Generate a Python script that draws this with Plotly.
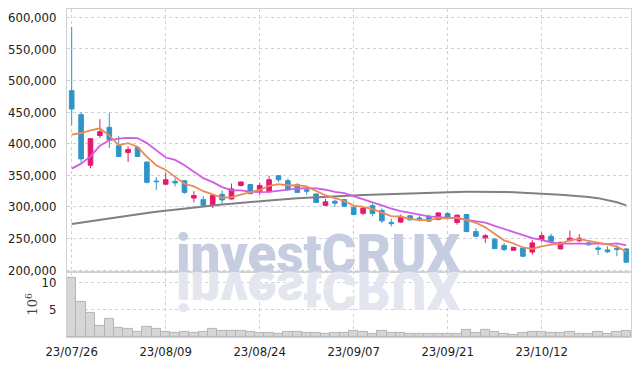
import plotly.graph_objects as go

dates = ["23/07/26","23/07/27","23/07/28","23/07/31","23/08/01","23/08/02","23/08/03","23/08/04","23/08/07","23/08/08",
         "23/08/09","23/08/10","23/08/11","23/08/14","23/08/16","23/08/17","23/08/18","23/08/21","23/08/22","23/08/23",
         "23/08/24","23/08/25","23/08/28","23/08/29","23/08/30","23/08/31","23/09/01","23/09/04","23/09/05","23/09/06",
         "23/09/07","23/09/08","23/09/11","23/09/12","23/09/13","23/09/14","23/09/15","23/09/18","23/09/19","23/09/20",
         "23/09/21","23/09/22","23/09/25","23/09/26","23/09/27","23/10/04","23/10/05","23/10/06","23/10/10","23/10/11",
         "23/10/12","23/10/13","23/10/16","23/10/17","23/10/18","23/10/19","23/10/20","23/10/23","23/10/24","23/10/25"]

opens = [484000,446000,366000,413000,426000,397000,386000,394000,371000,341000,
         336000,340500,341500,314000,311500,302500,320000,312500,334000,335500,
         325000,324000,349500,341500,335000,327000,320500,302500,309000,311500,
         299500,290000,302000,294500,275500,276000,286000,282500,285000,280000,
         289500,275500,288000,261000,251000,249000,239000,231500,235000,228500,
         248500,253500,233500,246500,246500,243000,235000,232000,234500,233500]
highs = [585000,450000,409000,439000,449000,412000,396000,396000,372000,347000,
         354000,346000,342000,325000,317000,318500,326000,337000,340000,336500,
         338500,349500,350000,345000,338000,331500,321000,312500,311500,313000,
         302000,299000,305000,298000,281500,288000,287000,287000,288000,291500,
         292000,288000,289000,266500,257000,250500,243000,237000,236000,248000,
         259500,257500,245000,262500,257000,245000,239000,237500,239000,234500]
lows = [429000,370000,361000,409000,393000,379000,371000,379000,337000,327000,
        335000,332500,321000,307000,302000,298000,305000,312000,332500,320000,
        319000,323500,339500,325000,322000,319500,306500,302000,300000,300500,
        287000,287000,285000,274500,269000,274500,279000,277000,276500,279000,
        281000,272000,260000,253000,243000,233500,230000,231000,220500,224500,
        244000,245000,233000,245500,244000,239500,224000,227000,222000,212000]
closes = [455000,376000,408000,419000,406000,380000,391000,380000,339000,340000,
          343000,338000,323000,318000,302500,318000,311000,328500,339500,321000,
          334000,343000,343000,328500,323000,325000,307000,308000,306000,301000,
          288000,298000,289500,278000,273500,285000,279500,280500,277500,290500,
          282000,287000,261000,253500,254500,234000,232500,236000,222000,243000,
          254500,245500,244000,250500,250500,240000,233000,229000,232500,212500]

ma_short = [414400,417000,421000,424400,412800,397800,400800,395200,379200,366000,
            358600,348000,336600,332400,324900,319900,314500,315600,319900,323600,
            326800,333200,336100,333900,334300,332500,325300,318300,313800,309400,
            302000,300200,296500,290900,285400,284800,281100,279200,279000,282400,
            281800,283400,279600,274900,267700,258100,247100,242100,235800,233500,
            237600,240200,241800,247500,249000,246100,243600,240600,237000,229400]
ma_mid = [360600,368500,380000,397000,405400,408000,409200,409000,401000,389400,
          378200,374400,365900,355800,345500,339300,331300,326100,326200,324300,
          323400,323900,325900,326900,329000,329700,329300,327200,323900,321900,
          317300,312800,307400,302400,297400,293400,290700,287900,285000,283900,
          283300,282300,279400,277000,275100,270000,265300,260900,255400,250600,
          247900,243700,242000,241700,241300,241900,241900,241200,242300,239200]
ma_long = [273000,275300,277600,279900,282100,284300,286400,288500,290400,292300,
           294100,295900,297600,299200,300800,302300,303800,305200,306600,308000,
           309300,310500,311600,312600,313600,314500,315300,316100,316800,317500,
           318100,318700,319300,319800,320300,320800,321300,321800,322300,322800,
           323200,323600,323900,324100,324200,324100,323800,323400,322800,322200,
           320500,319900,319200,318300,317200,315800,313900,311300,307500,302500]
volume_m = [10.9,6.45,4.4,2.12,3.35,1.7,1.5,0.96,1.88,1.5,
            0.96,0.77,0.96,0.77,0.96,1.55,1.1,1.1,1.2,1.0,
            0.83,0.83,0.65,1.0,1.0,0.83,0.83,0.65,0.83,0.83,
            1.2,1.0,0.65,1.2,0.83,0.83,0.65,0.6,0.5,0.65,
            0.65,0.5,1.25,0.85,1.25,0.95,0.65,0.3,0.85,1.0,
            1.0,0.85,0.85,1.0,0.65,0.65,1.0,0.65,1.0,1.2]

tick_dates = ["23/07/26","23/08/09","23/08/24","23/09/07","23/09/21","23/10/12"]
price_ticks = [200000,250000,300000,350000,400000,450000,500000,550000,600000]
vol_ticks = [5, 10]

UP = "#e6186e"
DOWN = "#2f95c8"
GRID = "#cdd0de"
LINE = "#d2d2d2"
TICKFONT = dict(family="DejaVu Sans Condensed, DejaVu Sans", size=13, color="#222222")

fig = go.Figure()
fig.add_trace(go.Candlestick(
    x=dates, open=opens, high=highs, low=lows, close=closes,
    increasing=dict(line=dict(color=UP, width=1), fillcolor=UP),
    decreasing=dict(line=dict(color=DOWN, width=1), fillcolor=DOWN),
    xaxis="x", yaxis="y", showlegend=False, hoverinfo="skip"))
fig.add_trace(go.Scatter(x=dates, y=ma_long, mode="lines", line=dict(color="#808080", width=2),
                         xaxis="x", yaxis="y", showlegend=False, hoverinfo="skip"))
fig.add_trace(go.Scatter(x=dates, y=ma_mid, mode="lines", line=dict(color="#d05ce6", width=1.8),
                         xaxis="x", yaxis="y", showlegend=False, hoverinfo="skip"))
fig.add_trace(go.Scatter(x=dates, y=ma_short, mode="lines", line=dict(color="#ee8a52", width=1.8),
                         xaxis="x", yaxis="y", showlegend=False, hoverinfo="skip"))
fig.add_trace(go.Bar(x=dates, y=volume_m, marker=dict(color="#d6d6d6", line=dict(color="#b5b5b5", width=1)),
                     xaxis="x2", yaxis="y2", showlegend=False, hoverinfo="skip"))

split = 0.1985
fig.update_layout(
    width=639, height=366,
    margin=dict(l=67, r=8, t=9, b=28.5),
    paper_bgcolor="white", plot_bgcolor="white",
    bargap=0,
    xaxis=dict(type="category", domain=[0, 1], anchor="y", range=[-0.5, 59.5], automargin=False,
               rangeslider=dict(visible=False), showticklabels=False,
               tickmode="array", tickvals=tick_dates,
               showgrid=True, gridcolor=GRID, griddash="dot", gridwidth=1,
               showline=True, linecolor=LINE, linewidth=1, mirror=True, zeroline=False),
    yaxis=dict(domain=[split, 1], range=[197150, 613300], tickmode="array", tickvals=price_ticks,
               tickformat=",d", tickfont=TICKFONT, ticklabelstandoff=7, automargin=False,
               showgrid=True, gridcolor=GRID, griddash="dot", gridwidth=1,
               showline=True, linecolor=LINE, linewidth=1, mirror=True, zeroline=False),
    xaxis2=dict(type="category", domain=[0, 1], anchor="y2", matches="x", range=[-0.5, 59.5],
                tickmode="array", tickvals=tick_dates, tickfont=TICKFONT, ticklabelstandoff=2,
                automargin=False,
                showgrid=True, gridcolor=GRID, griddash="dot", gridwidth=1,
                showline=True, linecolor=LINE, linewidth=1, mirror=True, zeroline=False),
    yaxis2=dict(domain=[0, split], range=[0, 12], tickmode="array", tickvals=vol_ticks,
                tickfont=TICKFONT, ticklabelstandoff=7, automargin=False,
                title=dict(text="10<sup>6</sup>", font=dict(family="DejaVu Serif", size=13, color="#444444"), standoff=0),
                showgrid=True, gridcolor=GRID, griddash="dot", gridwidth=1,
                showline=True, linecolor=LINE, linewidth=1, mirror=True, zeroline=False),
    annotations=[
        dict(text="investCRUX", xref="paper", yref="paper", x=0.445, y=0.152, xanchor="center", yanchor="bottom",
             showarrow=False, font=dict(family="Roboto", size=53, color="#c6cde1", weight=900)),
        dict(text="investCRUX", xref="paper", yref="paper", x=0.445, y=0.152, xanchor="center", yanchor="bottom",
             showarrow=False, font=dict(family="Roboto", size=53, color="#e3e6ef", weight=900)),
    ],
)

mirror_js = """
document.body.style.margin = '0';
document.body.style.padding = '0';
var t = document.querySelector('.annotation[data-index="1"] .annotation-text');
if (t) {
  var y = parseFloat(t.getAttribute('y'));
  if (isNaN(y)) { var b = t.getBBox(); y = b.y + b.height * 0.78; }
  t.setAttribute('transform', 'translate(0,' + (2 * y) + ') scale(1,-1)');
}
"""

fig.write_html("out.html", post_script=mirror_js, config={"displayModeBar": False})
